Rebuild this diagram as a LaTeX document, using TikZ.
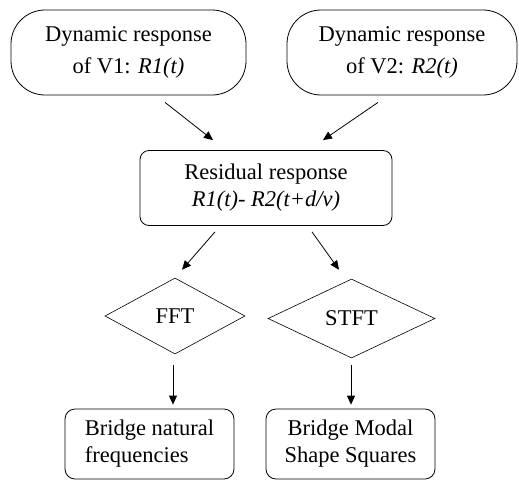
\documentclass[tikz,border=0pt]{standalone}
\usepackage{fontspec}
\setmainfont{Liberation Serif}
\usetikzlibrary{shapes.geometric,arrows.meta,calc}
\begin{document}
\begin{tikzpicture}[x=1pt,y=-1pt,
  every node/.style={font=\fontsize{22.5}{32}\selectfont, text=black},
  topbox/.style={draw, line width=0.8pt, rounded corners=34pt, minimum width=#1, minimum height=85pt, align=center, inner sep=0pt},
  midbox/.style={draw, line width=0.8pt, rounded corners=9pt, minimum width=252pt, minimum height=75pt, align=center, inner sep=0pt, font=\fontsize{22.5}{27}\selectfont},
  botbox/.style={draw, line width=0.8pt, rounded corners=10pt, minimum width=169pt, minimum height=70pt, inner sep=0pt, font=\fontsize{22.5}{27}\selectfont},
  dia/.style={draw, line width=0.6pt, diamond, inner sep=0pt, minimum width=#1},
  arr/.style={-{Triangle[length=9pt,width=8pt]}, line width=0.8pt}
]
\useasboundingbox (0,0) rectangle (519,480);
\node[topbox=235pt] (tl) at (128.5,52.5) {Dynamic response\\of V1: \textit{R1(t)}};
\node[topbox=230pt] (tr) at (402,52.5) {Dynamic response\\of V2: \textit{R2(t)}};
\node[midbox] (mid) at (266,188) {\raisebox{-3pt}{Residual response}\\\raisebox{-3pt}{\textit{R1(t)- R2(t+d/v)}}};
\node[dia=140pt, minimum height=76pt, aspect=1.84] (fft) at (175,316) {FFT};
\node[dia=167pt, minimum height=79pt, aspect=2.1] (stft) at (351.5,318.5) {STFT};
\node[botbox, align=left] (bl) at (149.5,444) {Bridge natural\\frequencies};
\node[botbox, align=center] (br) at (350.5,444) {Bridge Modal\\Shape Squares};
\draw[arr] ($(tl.south)+(36.5,7)$) -- ($(mid.north)+(-53,-10)$);
\draw[arr] ($(tr.south)+(-24,7)$) -- ($(mid.north)+(57,-10)$);
\draw[arr] ($(mid.south)+(-51,6)$) -- ($(fft.north)+(7,-8)$);
\draw[arr] ($(mid.south)+(46,6)$) -- ($(stft.north)+(-12.5,-9)$);
\draw[arr] ($(fft.south)+(-2,11)$) -- ($(bl.north)+(23.5,-4)$);
\draw[arr] ($(stft.south)+(-0.5,7)$) -- ($(br.north)+(0.5,-4)$);
\end{tikzpicture}
\end{document}
